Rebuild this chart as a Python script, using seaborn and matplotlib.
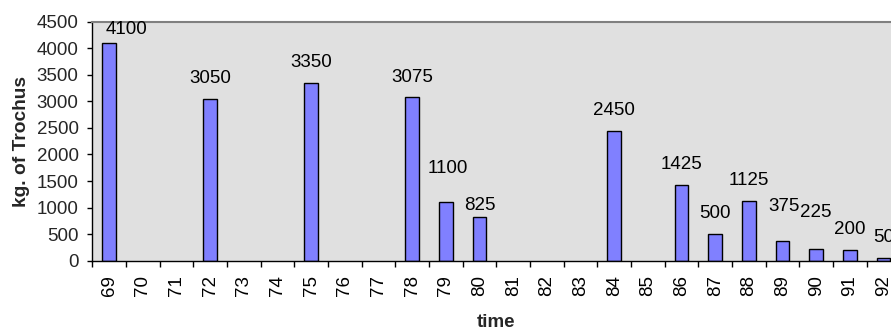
import matplotlib
matplotlib.use("Agg")
import matplotlib.pyplot as plt
import seaborn as sns
import pandas as pd
from matplotlib.ticker import FixedLocator

# Harvest years on the axis (two-digit years) and recorded catches
years = [str(y) for y in range(69, 93)]
catch_years = ["69", "72", "75", "78", "79", "80", "84", "86", "87", "88", "89", "90", "91", "92"]
catch_kg = [4100, 3050, 3350, 3075, 1100, 825, 2450, 1425, 500, 1125, 375, 225, 200, 50]
y_ticks = list(range(0, 5000, 500))

df = pd.DataFrame({"time": catch_years, "kg": catch_kg})

sns.set_theme(style="white")
plt.rcParams["font.family"] = ["Liberation Sans", "DejaVu Sans"]

DPI = 100
W, H = 891, 331
fig = plt.figure(figsize=(W / DPI, H / DPI), dpi=DPI)
fig.patch.set_facecolor("white")

# plot area in pixels: left 92.3, right 900.4 (runs past the right edge), top 21.6, bottom 260.7
left, right, top, bottom = 92.3, 900.4, 21.6, 260.7
ax = fig.add_axes([left / W, (H - bottom) / H, (right - left) / W, (bottom - top) / H])
ax.set_facecolor("#E0E0E0")

sns.barplot(data=df, x="time", y="kg", order=years, color="#8080FF",
            saturation=1, width=0.4, edgecolor="black", linewidth=1.0, ax=ax)

ax.set_xlim(-0.5, len(years) - 0.5)
ax.set_ylim(0, 4500)
ax.set_yticks(y_ticks)
ax.set_yticklabels([str(t) for t in y_ticks])

# category boundaries carry the tick marks, labels sit at the centres
ax.xaxis.set_minor_locator(FixedLocator([i - 0.5 for i in range(len(years) + 1)]))
ax.tick_params(axis="x", which="major", length=0, pad=10.3, labelsize=13.5,
               labelrotation=90, colors="black")
ax.tick_params(axis="x", which="minor", bottom=True, length=4.3, width=1, color="black")
ax.tick_params(axis="y", which="major", left=True, length=3.4, width=1, pad=6.4,
               labelsize=13.5, color="black")
for lab in ax.get_xticklabels():
    lab.set_verticalalignment("top")

for side in ("left", "bottom"):
    ax.spines[side].set_color("black")
    ax.spines[side].set_linewidth(1.0)
ax.spines["top"].set_color("#808080")
ax.spines["top"].set_linewidth(1.5)
ax.spines["right"].set_visible(False)

# value labels; a few are nudged (dx, gap above the bar) in pixels
px = 72.0 / DPI
nudge = {"69": (17.5, 8.7), "79": (1.5, 29.4), "80": (0, 6.7),
         "89": (1.0, 30.0), "90": (0, 32.0)}
pos = {y: i for i, y in enumerate(years)}
for yr, v in zip(catch_years, catch_kg):
    dx, gap = nudge.get(yr, (0, 15.8))
    ax.annotate(str(v), xy=(pos[yr], v), xytext=(dx * px, gap * px),
                textcoords="offset points", ha="center", va="baseline",
                fontsize=13.5, color="black", annotation_clip=False)

ax.set_xlabel("time", fontsize=13.5, fontweight="bold", labelpad=12.7)
ax.set_ylabel("kg. of Trochus", fontsize=13.8, fontweight="bold", labelpad=5)

fig.savefig("out.png", dpi=DPI)
